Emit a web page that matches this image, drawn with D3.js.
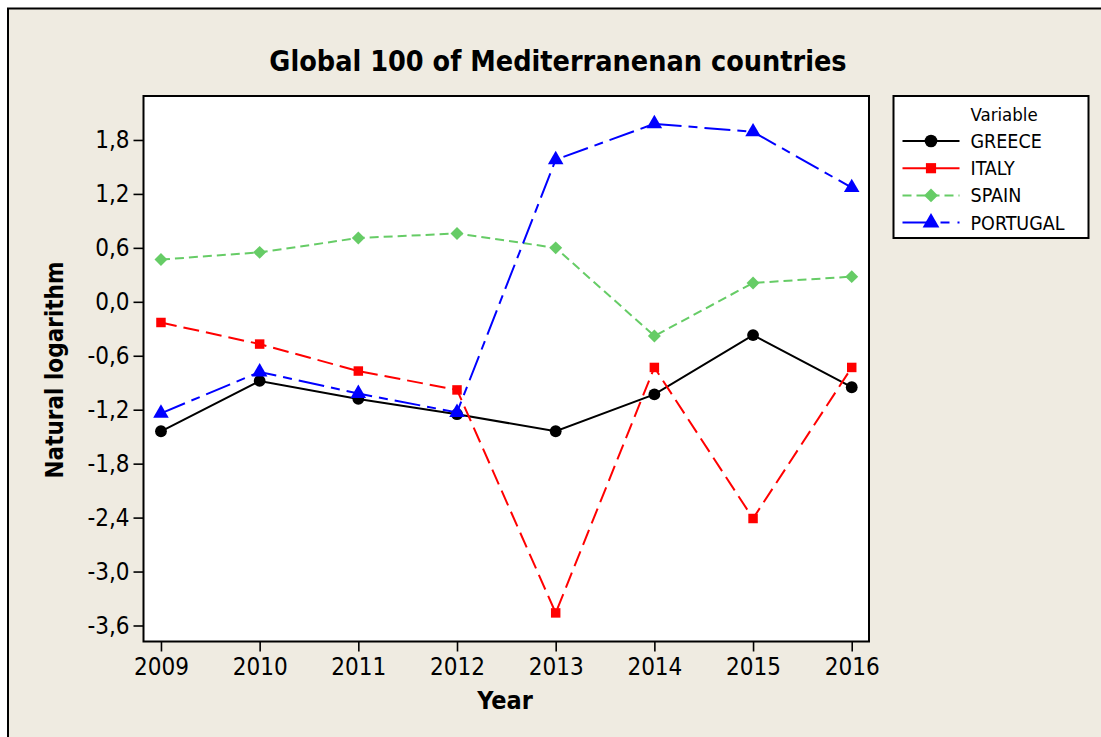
<!DOCTYPE html>
<html>
<head>
<meta charset="utf-8">
<script src="https://cdn.jsdelivr.net/npm/d3@7"></script>
<style>
  body { margin: 0; background: #fff; }
  svg text { font-family: "DejaVu Sans Condensed", "DejaVu Sans", sans-serif; fill: #000; }
</style>
</head>
<body>
<div id="chart"></div>
<script>
var years = [2009, 2010, 2011, 2012, 2013, 2014, 2015, 2016];
var greece   = [-1.44, -0.88, -1.08, -1.25, -1.44, -1.03, -0.37, -0.95];
var italy    = [-0.23, -0.47, -0.77, -0.98, -3.46, -0.73, -2.41, -0.73];
var spain    = [0.47, 0.55, 0.71, 0.76, 0.60, -0.38, 0.21, 0.28];
var portugal = [-1.24, -0.78, -1.02, -1.23, 1.58, 1.98, 1.89, 1.27];
var yTicks = [-3.6, -3.0, -2.4, -1.8, -1.2, -0.6, 0.0, 0.6, 1.2, 1.8];

// rot = extra rotation for the marker (diamond is a square turned 45deg)
var series = [
  {name: "GREECE",   values: greece,   color: "#000000", dash: null,       legendDash: null,       symbol: d3.symbolCircle,   size: 110, rot: 0},
  {name: "ITALY",    values: italy,    color: "#ff0000", dash: "16,7",     legendDash: null,       symbol: d3.symbolSquare,   size: 90,  rot: 0},
  {name: "SPAIN",    values: spain,    color: "#66cc66", dash: "9,5",      legendDash: "9,5",      symbol: d3.symbolSquare,   size: 84,  rot: 45},
  {name: "PORTUGAL", values: portugal, color: "#0000ff", dash: "26,7,9,7", legendDash: "30,8,9,8", symbol: d3.symbolTriangle, size: 105, rot: 0}
];

var width = 1101, height = 737;
var plot = {left: 143.5, top: 96, right: 869, bottom: 641.5};

var svg = d3.select("#chart").append("svg")
    .attr("width", width)
    .attr("height", height);

// figure background and frame (right and bottom edges fall outside the picture)
svg.append("rect")
    .attr("x", 0).attr("y", 0).attr("width", width).attr("height", height)
    .attr("fill", "#fff");
svg.append("rect")
    .attr("x", 8).attr("y", 8.5).attr("width", width).attr("height", height + 10)
    .attr("fill", "#efebe1")
    .attr("stroke", "#000").attr("stroke-width", 2);

var x = d3.scaleLinear()
    .domain([2008.823, 2016.175])
    .range([plot.left, plot.right]);

var y = d3.scaleLinear()
    .domain([-3.778, 2.289])
    .range([plot.bottom, plot.top]);

svg.append("rect")
    .attr("x", plot.left).attr("y", plot.top)
    .attr("width", plot.right - plot.left).attr("height", plot.bottom - plot.top)
    .attr("fill", "#fff");

// axes
var xAxis = d3.axisBottom(x).tickValues(years).tickFormat(d3.format("d")).tickSize(10).tickPadding(6);
var yAxis = d3.axisLeft(y).tickValues(yTicks)
    .tickFormat(function(d) { return d3.format(".1f")(d).replace(".", ",").replace("−", "-"); })
    .tickSize(10).tickPadding(4);

var gx = svg.append("g")
    .attr("transform", "translate(0," + plot.bottom + ")")
    .call(xAxis);
var gy = svg.append("g")
    .attr("transform", "translate(" + plot.left + ",0)")
    .call(yAxis);

[gx, gy].forEach(function(g) {
  g.select(".domain").remove();
  g.selectAll(".tick line").attr("stroke", "#000").attr("stroke-width", 1.6);
  g.selectAll(".tick text").attr("font-size", 24).attr("fill", "#000")
      .style("font-family", "'DejaVu Sans Condensed', 'DejaVu Sans', sans-serif");
});

// series lines and markers
var line = d3.line()
    .x(function(d, i) { return x(years[i]); })
    .y(function(d) { return y(d); });

series.forEach(function(s) {
  svg.append("path")
      .datum(s.values)
      .attr("d", line)
      .attr("fill", "none")
      .attr("stroke", s.color)
      .attr("stroke-width", 2)
      .attr("stroke-dasharray", s.dash);

  svg.selectAll(null)
      .data(s.values)
      .enter()
      .append("path")
      .attr("d", d3.symbol().type(s.symbol).size(s.size))
      .attr("transform", function(d, i) {
        return "translate(" + x(years[i]) + "," + y(d) + ") rotate(" + s.rot + ")";
      })
      .attr("fill", s.color);
});

// plot border on top
svg.append("rect")
    .attr("x", plot.left).attr("y", plot.top)
    .attr("width", plot.right - plot.left).attr("height", plot.bottom - plot.top)
    .attr("fill", "none")
    .attr("stroke", "#000").attr("stroke-width", 2);

// titles
svg.append("text")
    .attr("x", 558).attr("y", 71)
    .attr("text-anchor", "middle")
    .attr("font-size", 28.5).attr("font-weight", "bold")
    .text("Global 100 of Mediterranenan countries");

svg.append("text")
    .attr("x", 505).attr("y", 709)
    .attr("text-anchor", "middle")
    .attr("font-size", 25).attr("font-weight", "bold")
    .text("Year");

svg.append("text")
    .attr("transform", "translate(63,370) rotate(-90)")
    .attr("text-anchor", "middle")
    .attr("font-size", 24).attr("font-weight", "bold")
    .text("Natural logarithm");

// legend
var legend = svg.append("g").attr("transform", "translate(893.5,96)");
legend.append("rect")
    .attr("width", 195).attr("height", 142)
    .attr("fill", "#fff")
    .attr("stroke", "#000").attr("stroke-width", 2);
legend.append("text")
    .attr("x", 77).attr("y", 25)
    .attr("font-size", 18.5)
    .text("Variable");

var items = legend.selectAll("g.item")
    .data(series)
    .enter()
    .append("g")
    .attr("class", "item")
    .attr("transform", function(d, i) { return "translate(0," + (45 + i * 27.2) + ")"; });

items.append("line")
    .attr("x1", 9).attr("x2", 66)
    .attr("stroke", function(d) { return d.color; })
    .attr("stroke-width", 2)
    .attr("stroke-dasharray", function(d) { return d.legendDash; });
items.append("path")
    .attr("d", function(d) { return d3.symbol().type(d.symbol).size(d.size * 1.15)(); })
    .attr("transform", function(d) { return "translate(37.5,0) rotate(" + d.rot + ")"; })
    .attr("fill", function(d) { return d.color; });
items.append("text")
    .attr("x", 77).attr("y", 7)
    .attr("font-size", 19.5)
    .text(function(d) { return d.name; });
</script>
</body>
</html>
